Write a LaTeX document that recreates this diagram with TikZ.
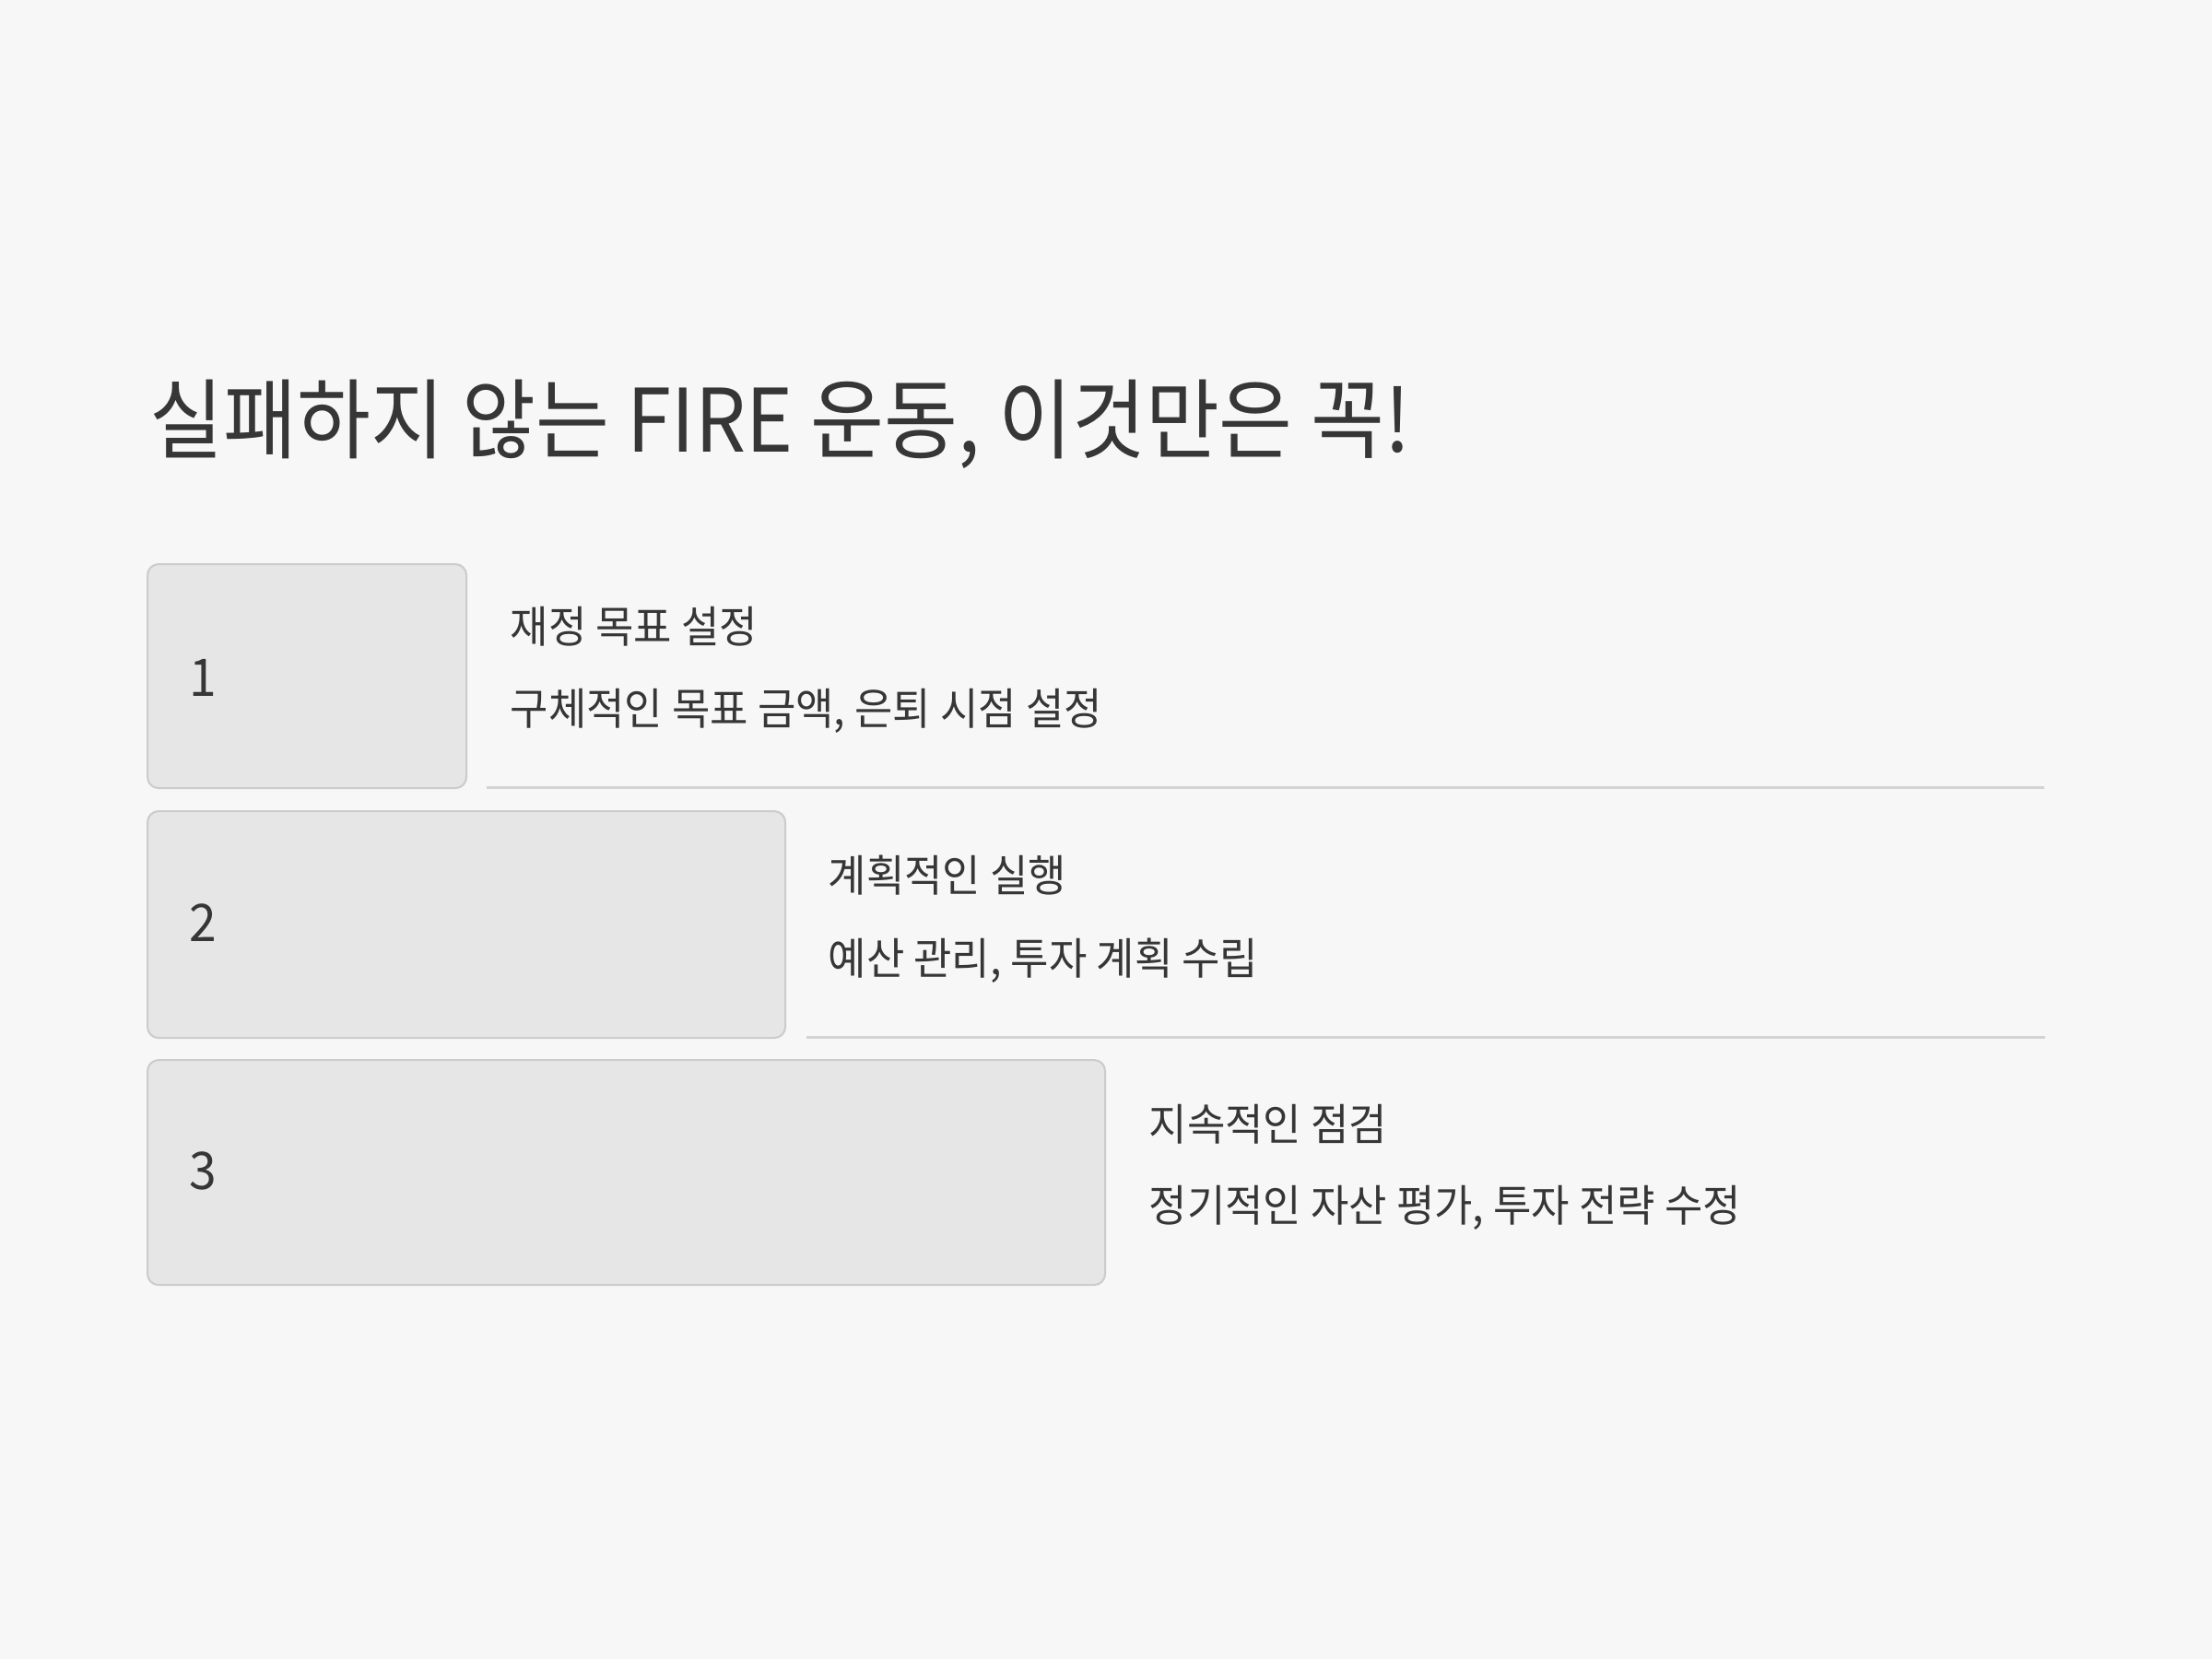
\documentclass[tikz,border=0pt]{standalone}
\usepackage{fontspec}
\newfontfamily\krtitle[FakeStretch=0.915]{Noto Sans CJK KR}
\newfontfamily\krbody[FakeStretch=0.948]{Noto Sans CJK KR}
\definecolor{bg}{HTML}{F7F7F7}
\definecolor{boxfill}{HTML}{E6E6E6}
\definecolor{boxline}{HTML}{CCCCCC}
\definecolor{sepline}{HTML}{D3D3D3}
\definecolor{ink}{HTML}{363636}
\tikzset{
  stepbox/.style={draw=boxline, fill=boxfill, line width=0.6pt, rounded corners=0.12cm, anchor=north west, inner sep=0pt},
  numlabel/.style={anchor=west, inner sep=0pt, text=ink, font=\krbody\fontsize{16pt}{18pt}\selectfont},
  headlabel/.style={anchor=west, inner sep=0pt, text=ink, font=\krbody\fontsize{13.5pt}{16pt}\selectfont},
  desclabel/.style={anchor=west, inner sep=0pt, text=ink, font=\krbody\fontsize{13.5pt}{16pt}\selectfont},
  titlelabel/.style={anchor=west, inner sep=0pt, text=ink, font=\krtitle\fontsize{27pt}{30pt}\selectfont},
  sep/.style={draw=sepline, line width=0.85pt}
}
\begin{document}
\begin{tikzpicture}[x=1cm,y=-1cm]
\fill[bg] (0,0) rectangle (24,18);
\useasboundingbox (0,0) rectangle (24,18);

\node[titlelabel] (title) at (1.62,4.60) {실패하지 않는 FIRE 운동, 이것만은 꼭!};

% step 1
\node[stepbox, minimum width=3.46cm, minimum height=2.43cm] (b1) at (1.59,6.11) {};
\node[numlabel] (n1) at (2.05,7.35) {1};
\node[headlabel] (h1) at (5.53,6.80) {재정 목표 설정};
\node[desclabel] (d1) at (5.53,7.71) {구체적인 목표 금액, 은퇴 시점 설정};
\coordinate (s1a) at (5.28,8.54);
\coordinate (s1b) at (22.18,8.54);
\draw[sep] (s1a) -- (s1b);

% step 2
\node[stepbox, minimum width=6.92cm, minimum height=2.46cm] (b2) at (1.59,8.79) {};
\node[numlabel] (n2) at (2.05,10.01) {2};
\node[headlabel] (h2) at (8.98,9.50) {계획적인 실행};
\node[desclabel] (d2) at (8.98,10.42) {예산 관리, 투자 계획 수립};
\coordinate (s2a) at (8.75,11.25);
\coordinate (s2b) at (22.19,11.25);
\draw[sep] (s2a) -- (s2b);

% step 3
\node[stepbox, minimum width=10.39cm, minimum height=2.44cm] (b3) at (1.59,11.49) {};
\node[numlabel] (n3) at (2.05,12.70) {3};
\node[headlabel] (h3) at (12.46,12.20) {지속적인 점검};
\node[desclabel] (d3) at (12.46,13.10) {정기적인 자산 평가, 투자 전략 수정};
\end{tikzpicture}
\end{document}
